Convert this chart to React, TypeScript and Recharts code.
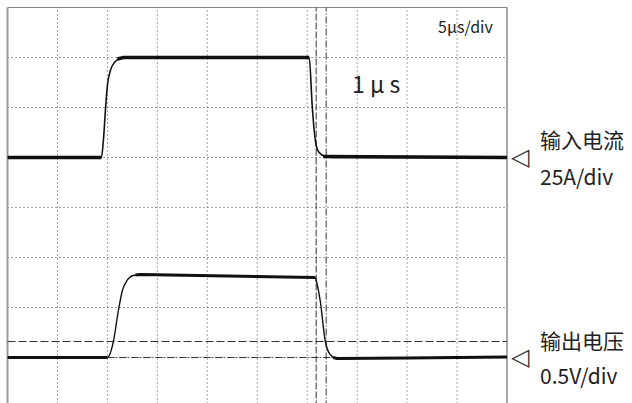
import React from 'react';
import {
  LineChart,
  Line,
  XAxis,
  YAxis,
  ReferenceLine,
} from 'recharts';

// time in µs (5 µs/div, 10 div), level in divisions (8 div, 0 = bottom)
const xGrid = [5, 10, 15, 20, 25, 30, 35, 40, 45];
const yGrid = [1, 2, 3, 4, 5, 6, 7];

// input current trace
const currentTrace: [number, number][] = [
  [0, 5], [9.4, 5], [9.6, 5.34], [9.8, 5.94], [10.0, 6.44], [10.3, 6.74],
  [10.7, 6.9], [11.3, 6.98], [12.3, 7.0], [30.2, 7.0], [30.5, 6.04],
  [30.7, 5.54], [30.9, 5.24], [31.2, 5.1], [31.8, 5.02], [32.5, 5.0], [50, 5.0],
];
// noisy flat parts (drawn thick)
const currentBands: [number, number | null][] = [
  [0, 5], [9.4, 5], [9.5, null], [11.0, 6.97], [11.6, 7.0], [30.2, 7.0], [30.3, null],
  [31.6, 5.02], [50, 5.0],
];

// output voltage trace
const voltageTrace: [number, number][] = [
  [0, 1.0], [10.0, 1.0], [10.6, 1.32], [11.1, 1.94], [11.5, 2.34], [11.9, 2.52],
  [12.6, 2.64], [13.3, 2.66], [22, 2.63], [30.8, 2.6], [30.9, 2.54],
  [31.3, 2.14], [31.8, 1.34], [32.3, 1.06], [33.0, 0.98], [40, 0.99], [50, 1.01],
];
const voltageBands: [number, number | null][] = [
  [0, 1.0], [10.0, 1.0], [10.1, null], [12.8, 2.65], [13.3, 2.66], [22, 2.63],
  [30.8, 2.6], [30.85, null], [32.6, 1.0], [33.0, 0.98], [40, 0.99], [50, 1.01],
];

const cursorA = 30.9; // dashed vertical cursor
const cursorB = 31.9; // dash-dot vertical cursor
const levelDashed = 1.32; // horizontal dashed level
const levelDashDot = 1.0; // horizontal dash-dot level (from 10 µs)

const toRows = (pts: [number, number | null][]) => pts.map(([t, v]) => ({ t, v }));

const font = "'Noto Sans CJK SC', 'Noto Sans', sans-serif";

const label = (left: number, top: number, size: number): React.CSSProperties => ({
  position: 'absolute',
  left,
  top,
  fontSize: size,
  lineHeight: '28px',
  whiteSpace: 'nowrap',
});

export default function App() {
  return (
    <div
      style={{
        position: 'fixed',
        left: 0,
        top: 0,
        width: 632,
        height: 403,
        overflow: 'hidden',
        background: '#fff',
        fontFamily: font,
        color: '#222',
      }}
    >
      <LineChart
        width={632}
        height={410}
        margin={{ top: 7.5, right: 125, left: 7.5, bottom: 2.5 }}
      >
        <XAxis type="number" dataKey="t" domain={[0, 50]} hide allowDataOverflow />
        <YAxis type="number" dataKey="v" domain={[0, 8]} hide allowDataOverflow />
        {xGrid.map(x => (
          <ReferenceLine key={'gx' + x} x={x} stroke="#444" strokeDasharray="1 3" />
        ))}
        {yGrid.map(y => (
          <ReferenceLine key={'gy' + y} y={y} stroke="#444" strokeDasharray="1 3" />
        ))}
        <ReferenceLine x={0} stroke="#999" strokeWidth={2} />
        <ReferenceLine y={8} stroke="#888" />
        <ReferenceLine x={50} stroke="#555" />
        <ReferenceLine x={cursorA} stroke="#333" strokeDasharray="7 2" />
        <ReferenceLine x={cursorB} stroke="#333" strokeDasharray="7 2 1 2" />
        <ReferenceLine y={levelDashed} stroke="#333" strokeDasharray="8 3" />
        <ReferenceLine
          segment={[
            { x: 10, y: levelDashDot },
            { x: 50, y: levelDashDot },
          ]}
          stroke="#333"
          strokeDasharray="7 2 1 2"
        />
        <Line
          data={toRows(currentBands)}
          dataKey="v"
          type="linear"
          stroke="#111"
          strokeWidth={3.5}
          dot={false}
          isAnimationActive={false}
        />
        <Line
          data={toRows(currentTrace)}
          dataKey="v"
          type="monotone"
          stroke="#111"
          strokeWidth={1.6}
          dot={false}
          isAnimationActive={false}
        />
        <Line
          data={toRows(voltageBands)}
          dataKey="v"
          type="linear"
          stroke="#111"
          strokeWidth={3}
          dot={false}
          isAnimationActive={false}
        />
        <Line
          data={toRows(voltageTrace)}
          dataKey="v"
          type="monotone"
          stroke="#111"
          strokeWidth={1.4}
          dot={false}
          isAnimationActive={false}
        />
      </LineChart>

      <span style={label(438, 12, 16)}>5µs/div</span>
      <span style={label(352, 69, 23)}>1 µ s</span>

      <span style={{ ...label(511, 143, 24), fontFamily: "'DejaVu Sans', sans-serif", color: '#333' }}>◁</span>
      <span style={label(540, 125, 21)}>输入电流</span>
      <span style={label(540, 162, 21)}>25A/div</span>

      <span style={{ ...label(511, 343, 24), fontFamily: "'DejaVu Sans', sans-serif", color: '#333' }}>◁</span>
      <span style={label(540, 326, 21)}>输出电压</span>
      <span style={label(540, 361, 21)}>0.5V/div</span>
    </div>
  );
}
